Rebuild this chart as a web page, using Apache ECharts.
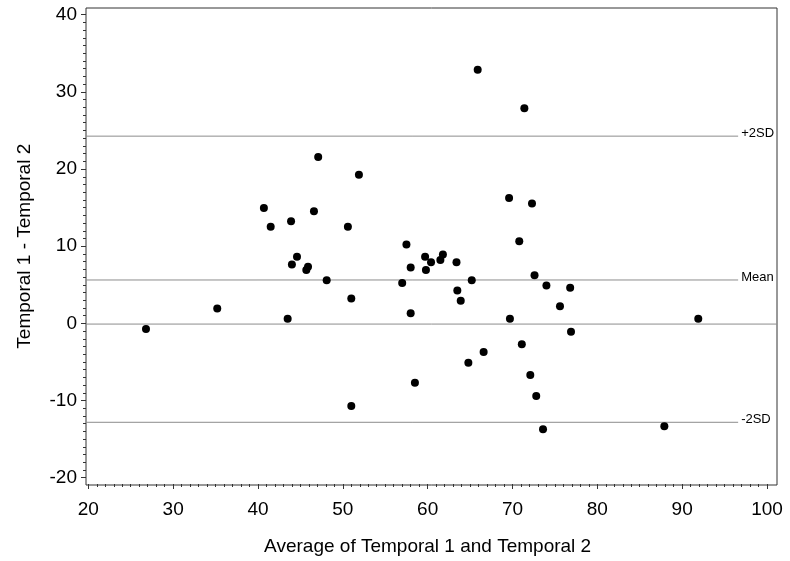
<!DOCTYPE html>
<html>
<head>
<meta charset="utf-8">
<script src="https://cdn.jsdelivr.net/npm/echarts@6/dist/echarts.min.js"></script>
<style>html,body{margin:0;padding:0;background:#fff}#c{width:790px;height:561px}</style>
</head>
<body>
<div id="c"></div>
<script>
// Average of Temporal 1 and Temporal 2
const avgValues = [47.1, 51.9, 40.7, 46.6, 41.5, 43.9, 50.6, 65.9, 71.4, 69.6, 72.3, 57.5, 70.8,
  26.8, 35.2, 43.5, 44.0, 44.6, 45.7, 45.9, 48.1, 51.0, 51.0,
  59.7, 60.4, 58.0, 59.8, 61.5, 61.8, 63.4, 57.0, 65.2, 72.6, 74.0, 76.8, 63.5, 63.9, 75.6,
  58.0, 69.7, 91.9, 76.9, 71.1, 66.6, 64.8, 58.5, 72.1, 72.8, 73.6, 87.9];
// Temporal 1 - Temporal 2
const diffValues = [21.6, 19.3, 15.0, 14.6, 12.6, 13.3, 12.6, 32.9, 27.9, 16.3, 15.6, 10.3, 10.7,
  -0.65, 2.0, 0.7, 7.7, 8.7, 7.0, 7.4, 5.65, 3.3, -10.6,
  8.7, 8.0, 7.3, 7.0, 8.3, 9.0, 8.0, 5.3, 5.65, 6.3, 5.0, 4.7, 4.35, 3.0, 2.3,
  1.4, 0.7, 0.7, -1.0, -2.6, -3.6, -5.0, -7.6, -6.6, -9.3, -13.6, -13.2];
const refNames = ['+2SD', 'Mean', '-2SD'];
const refValues = [24.3, 5.7, -12.7];
const refStart = 19.73;
const refEnd = 96.6;
const zeroLineValue = 0;
const frameXRange = [19.73, 101.18];
const frameYRange = [-20.81, 40.87];
const xTickMin = 20, xTickMax = 100, xTickStep = 10;
const yTickMin = -20, yTickMax = 40, yTickStep = 10;

const font = "'Liberation Sans', Arial, sans-serif";
const chart = echarts.init(document.getElementById('c'));

const points = avgValues.map((x, i) => [x, diffValues[i]]);
const refSeries = refNames.map((name, i) => ({
  type: 'line', name: name, xAxisIndex: 0, yAxisIndex: 0,
  data: [[refStart, refValues[i]], [refEnd, refValues[i]]],
  symbol: 'none', silent: true, animation: false,
  lineStyle: { color: '#8c8c8c', width: 1 },
  endLabel: { show: true, formatter: name, distance: 3, offset: [0, -3],
    fontSize: 13, fontFamily: font, color: '#000' },
  z: 1
}));
refSeries.push({
  type: 'line', name: 'zero', xAxisIndex: 0, yAxisIndex: 0,
  data: [[frameXRange[0], zeroLineValue], [frameXRange[1], zeroLineValue]],
  symbol: 'none', silent: true, lineStyle: { color: '#8c8c8c', width: 1 }, z: 1
});

chart.setOption({
  animation: false,
  grid: [
    { left: 86, top: 8, width: 691, height: 477, show: true, borderColor: '#333', borderWidth: 1, backgroundColor: 'transparent' },
    { left: 88.3, top: 14.7, width: 678.7, height: 464 }
  ],
  xAxis: [
    { gridIndex: 0, type: 'value', min: frameXRange[0], max: frameXRange[1], show: false },
    { gridIndex: 1, type: 'value', min: xTickMin, max: xTickMax, interval: xTickStep, offset: 6.3,
      axisLine: { show: false, onZero: false },
      axisTick: { show: true, length: 5, lineStyle: { color: '#333' } },
      minorTick: { show: true, splitNumber: 10, length: 3, lineStyle: { color: '#333' } },
      splitLine: { show: false },
      axisLabel: { fontSize: 19, fontFamily: font, color: '#000', margin: 16 },
      name: 'Average of Temporal 1 and Temporal 2', nameLocation: 'middle', nameGap: 53,
      nameTextStyle: { fontSize: 19, fontFamily: font, color: '#000' } }
  ],
  yAxis: [
    { gridIndex: 0, type: 'value', min: frameYRange[0], max: frameYRange[1], show: false },
    { gridIndex: 1, type: 'value', min: yTickMin, max: yTickMax, interval: yTickStep, offset: 2.3,
      axisLine: { show: false, onZero: false },
      axisTick: { show: true, length: 5, lineStyle: { color: '#333' } },
      minorTick: { show: true, splitNumber: 10, length: 3, lineStyle: { color: '#333' } },
      splitLine: { show: false },
      axisLabel: { fontSize: 19, fontFamily: font, color: '#000', margin: 9 },
      name: 'Temporal 1 - Temporal 2', nameLocation: 'middle', nameGap: 52, nameRotate: 90,
      nameTextStyle: { fontSize: 19, fontFamily: font, color: '#000' } }
  ],
  series: refSeries.concat([{
    type: 'scatter', xAxisIndex: 0, yAxisIndex: 0, data: points,
    symbol: 'circle', symbolSize: 8, itemStyle: { color: '#000', opacity: 1 }, z: 3
  }])
});
</script>
</body>
</html>
